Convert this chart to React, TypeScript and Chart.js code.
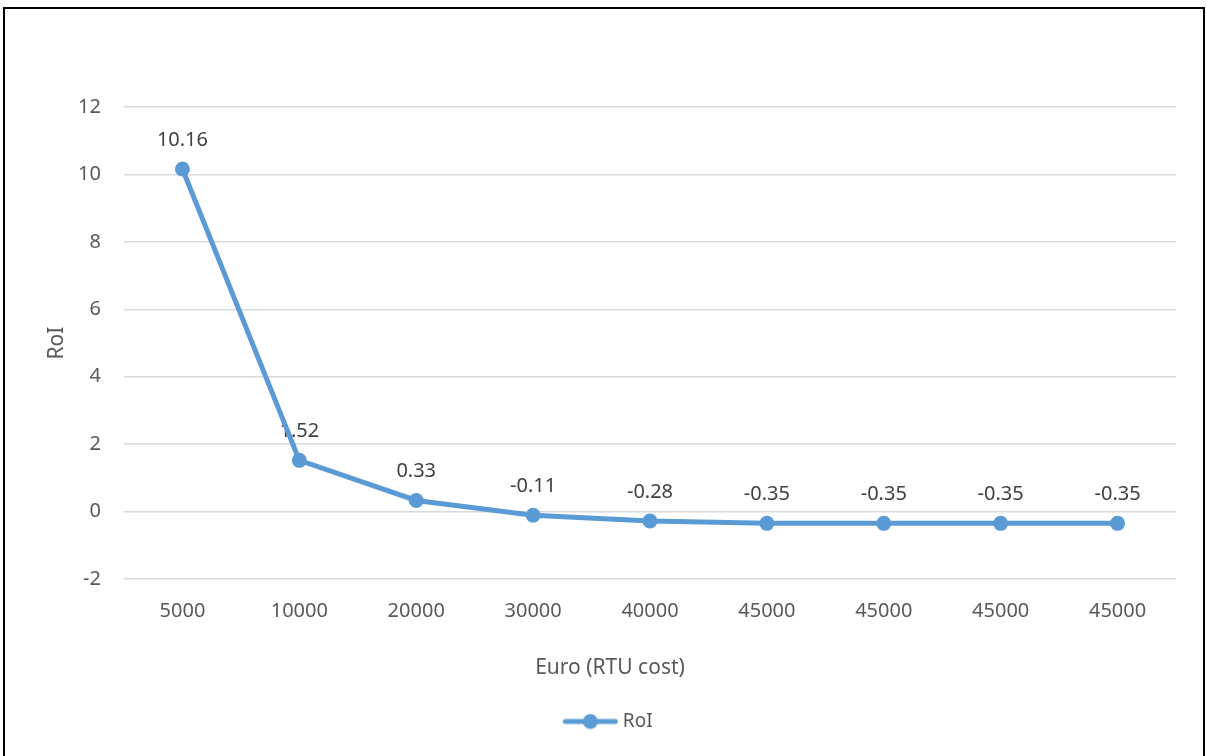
import React, { useEffect, useRef } from "react";
import { Chart, registerables } from "chart.js";

Chart.register(...registerables);

const categories = ["5000", "10000", "20000", "30000", "40000", "45000", "45000", "45000", "45000"];
const roiValues = [10.16, 1.52, 0.33, -0.11, -0.28, -0.35, -0.35, -0.35, -0.35];
const roiLabels = ["10.16", "1.52", "0.33", "-0.11", "-0.28", "-0.35", "-0.35", "-0.35", "-0.35"];
const yMin = -2;
const yMax = 12;
const yStep = 2;

const FONT = "'Noto Sans', 'Open Sans', sans-serif";
const LINE_COLOR = "#5B9BD5";

function makeLegendImage(): HTMLCanvasElement {
  const c = document.createElement("canvas");
  c.width = 56;
  c.height = 18;
  const ctx = c.getContext("2d")!;
  ctx.strokeStyle = LINE_COLOR;
  ctx.lineWidth = 5;
  ctx.lineCap = "round";
  ctx.beginPath();
  ctx.moveTo(3, 9);
  ctx.lineTo(53, 9);
  ctx.stroke();
  ctx.fillStyle = LINE_COLOR;
  ctx.beginPath();
  ctx.arc(28, 9, 7.5, 0, Math.PI * 2);
  ctx.fill();
  return c;
}

const dataLabelPlugin = {
  id: "roiDataLabels",
  beforeDatasetsDraw(chart: any) {
    const ctx = chart.ctx;
    const meta = chart.getDatasetMeta(0);
    ctx.save();
    ctx.font = `20px ${FONT}`;
    ctx.fillStyle = "#404040";
    ctx.textAlign = "center";
    ctx.textBaseline = "alphabetic";
    meta.data.forEach((pt: any, i: number) => {
      ctx.fillText(roiLabels[i], pt.x, pt.y - 23);
    });
    ctx.restore();
  },
};

export default function App() {
  const ref = useRef<HTMLCanvasElement | null>(null);

  useEffect(() => {
    if (!ref.current) return;
    const legendImg = makeLegendImage();
    const chart = new Chart(ref.current, {
      type: "line",
      data: {
        labels: categories,
        datasets: [
          {
            label: "RoI",
            data: roiValues,
            borderColor: LINE_COLOR,
            backgroundColor: LINE_COLOR,
            borderWidth: 5,
            pointRadius: 7.5,
            pointHoverRadius: 7.5,
            pointBackgroundColor: LINE_COLOR,
            pointBorderWidth: 0,
            tension: 0,
            fill: false,
          },
        ],
      },
      options: {
        responsive: false,
        animation: false,
        devicePixelRatio: 1,
        layout: { padding: { top: 107, right: 30, bottom: 15, left: 44 } },
        scales: {
          x: {
            offset: true,
            grid: { display: false, drawTicks: false },
            border: { display: false },
            ticks: {
              color: "#595959",
              font: { family: FONT, size: 20 },
              padding: 20,
              maxRotation: 0,
              autoSkip: false,
            },
            afterFit(scale: any) {
              scale.height = 60;
            },
          },
          y: {
            min: yMin,
            max: yMax,
            grid: { color: "#d9d9d9", lineWidth: 1.5, drawTicks: false },
            border: { display: false },
            ticks: {
              stepSize: yStep,
              color: "#595959",
              font: { family: FONT, size: 20 },
              padding: 23,
            },
            title: {
              display: true,
              text: "RoI",
              color: "#595959",
              font: { family: FONT, size: 21 },
              padding: { top: 0, bottom: 0 },
            },
            afterFit(scale: any) {
              scale.width = 80;
            },
          },
        },
        plugins: {
          tooltip: { enabled: false },
          title: {
            display: true,
            text: "Euro (RTU cost)",
            position: "bottom",
            weight: 500,
            color: "#595959",
            font: { family: FONT, size: 21, weight: "normal" },
            padding: { top: 16, bottom: 21.8 },
          } as any,
          legend: {
            position: "bottom",
            labels: {
              usePointStyle: true,
              pointStyle: legendImg as any,
              pointStyleWidth: 46,
              boxHeight: 18,
              color: "#595959",
              font: { family: FONT, size: 19 },
              padding: 10,
            },
          },
        },
      } as any,
      plugins: [dataLabelPlugin],
    });
    return () => chart.destroy();
  }, []);

  return (
    <div style={{ position: "absolute", left: 0, top: 0, width: 1206, height: 756, background: "#fff", overflow: "hidden" }}>
      <canvas ref={ref} width={1206} height={756} style={{ position: "absolute", left: 0, top: 0, width: 1206, height: 756 }} />
      <div
        style={{
          position: "absolute",
          left: 3,
          top: 7,
          width: 1202,
          height: 760,
          border: "2px solid #000",
          boxSizing: "border-box",
          pointerEvents: "none",
        }}
      />
    </div>
  );
}
